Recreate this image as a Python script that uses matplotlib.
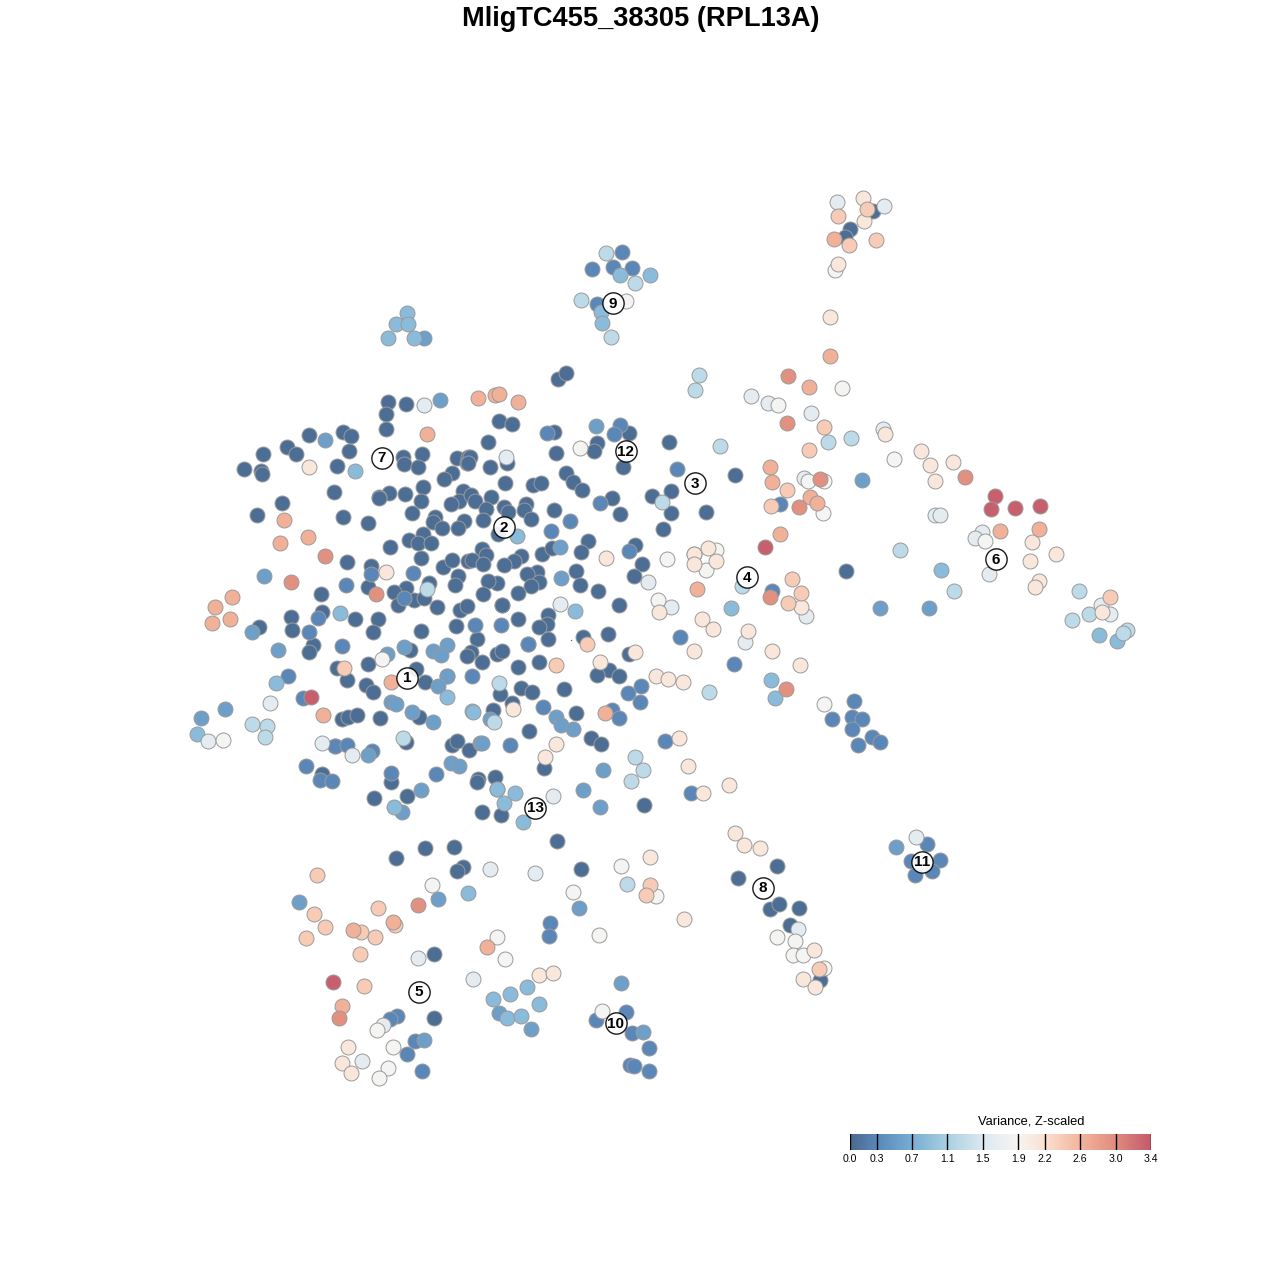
import numpy as np
import matplotlib
matplotlib.use('Agg')
import matplotlib.pyplot as plt
from matplotlib.colors import LinearSegmentedColormap, Normalize

plt.rcParams['font.family'] = ['Liberation Sans', 'DejaVu Sans']

title = 'MligTC455_38305 (RPL13A)'
legend_title = 'Variance, Z-scaled'
legend_ticks = [0.0, 0.3, 0.7, 1.1, 1.5, 1.9, 2.2, 2.6, 3.0, 3.4]
legend_colors = ['#4a6a90', '#5a88b8', '#79aed4', '#a9d0e3', '#dde9f1', '#f7f5f3',
                 '#fbe0d2', '#f4b59c', '#e08d7e', '#c55a6b']

# cells grouped by variance level
v_a = 0.05
x_a = [388,406,386,386,309,343,351,287,296,263,349,244,261,262,337,403,404,422,418,457,468,467,452,444,423,405,389,379,379,334,421,463,459,451,282,257,343,368,412,435,433,442,464,458,409,423,418,431,390,421,347,371,443,452,468,458,455,429,406,394,368,414,424,398,437,460,467,321,291,322,355,378,
       558,566,499,512,554,488,556,597,594,629,669,470,468,507,490,623,566,573,582,505,533,541,471,475,491,486,504,508,526,524,531,554,612,652,671,620,671,663,483,498,588,581,542,552,521,514,504,482,486,472,483,635,642,634,576,537,527,539,531,497,488,483,518,580,598,502,619,548,518,
       259,292,373,421,456,477,471,467,482,313,309,410,368,337,347,416,447,366,373,425,342,348,357,380,419,335,406,452,457,478,469,477,391,322,374,407,482,
       528,583,608,502,497,629,609,597,619,521,532,564,500,512,493,529,576,591,601,544,495,501,644,557,735,706,846,777,738,799,770,779,790,820,873,850,845,425,454,396,463,457,581,434,434,
       547,539,548,518,539,502]
y_a = [402,404,414,429,435,432,436,447,454,454,451,469,471,474,466,457,464,454,467,458,457,463,473,479,487,494,493,497,498,492,501,491,501,504,503,515,517,523,513,517,522,528,521,528,540,534,543,543,547,558,562,566,567,560,561,576,585,583,588,592,587,600,598,605,607,610,606,594,617,612,619,619,
       379,373,421,424,432,442,453,443,451,433,442,457,463,463,467,467,473,482,490,483,485,483,495,501,497,509,507,512,504,510,519,510,498,496,491,514,513,529,520,534,541,552,554,548,556,561,565,549,555,560,564,545,564,576,571,572,574,582,586,583,581,594,593,585,591,605,605,615,619,
       627,630,632,631,626,639,652,656,662,645,652,650,664,668,680,669,676,685,692,682,719,717,715,718,717,746,742,745,741,779,750,782,782,774,798,796,812,
       644,637,634,605,654,654,670,675,676,688,692,689,694,703,710,731,713,738,744,768,777,815,805,841,475,512,571,866,878,908,909,904,925,980,211,229,237,848,847,858,867,871,869,954,1018,
       624,627,639,667,662,651]

v_b = 0.3
x_b = [371,346,413,547,620,614,600,570,551,629,677,780,318,309,342,303,288,472,501,475,528,680,612,619,628,641,640,665,510,691,734,772,854,832,852,862,852,872,880,858,927,911,940,915,932,550,549,626,596,632,649,630,634,649,397,390,415,407,422,592,622,613,632,597,404,436,391,306,320,332,372,335,347,543]
y_b = [574,585,573,433,425,434,503,521,531,551,469,504,618,632,646,698,676,676,625,625,644,637,710,718,693,686,702,741,745,793,664,591,701,719,717,719,729,737,742,745,844,861,860,875,871,923,936,1012,1020,1033,1048,1065,1066,1071,1016,1019,1041,1054,1071,269,252,267,268,304,598,774,773,766,780,781,751,746,745,707]

v_c = 0.55
x_c = [325,440,264,596,560,561,252,278,404,387,433,447,441,447,391,396,412,433,368,451,459,480,603,583,600,497,694,556,561,573,490,402,421,880,929,896,424,438,579,299,499,621,643,531,424,862,438,482,225,201]
y_c = [440,400,576,426,547,578,632,650,647,654,651,645,655,676,702,704,712,722,755,763,766,743,770,790,807,789,554,717,725,729,719,812,790,608,608,847,338,899,908,902,1013,983,1032,1029,1040,480,686,743,709,718]

v_d = 0.85
x_d = [340,355,517,276,447,472,473,575,497,504,523,731,771,775,527,510,493,539,507,521,941,468,1099,1117,407,396,408,388,414,601,602,620,650,197,394,515]
y_d = [613,471,536,683,697,711,712,611,789,803,822,608,680,698,987,994,999,1004,1018,1016,570,893,635,641,313,324,324,338,338,312,323,275,275,734,807,793]

v_e = 1.25
x_e = [427,662,499,494,403,252,267,265,635,643,631,627,699,695,828,851,720,900,954,606,635,581,611,1079,1089,1072,1127,1123,709,742]
y_e = [589,502,683,722,738,724,726,737,757,770,781,884,375,390,442,438,446,550,591,253,283,300,337,591,614,620,630,633,692,586]

v_f = 1.6
x_f = [424,506,560,671,270,322,352,553,648,745,751,768,811,804,935,940,982,975,989,806,837,884,490,535,418,473,362,383,916,798,1101,1110,883,208]
y_f = [405,457,604,607,703,743,755,796,582,642,396,403,413,478,515,515,532,538,574,616,202,206,869,873,958,979,1061,1025,837,929,605,614,429,741]

v_g = 1.85
x_g = [580,667,658,382,716,706,842,894,808,824,823,985,626,835,621,656,432,573,497,505,599,602,377,393,388,379,777,795,793,803,824,223,778,824]
y_g = [448,559,600,659,550,570,388,459,481,481,513,541,301,270,866,896,885,892,937,959,935,1011,1030,1047,1068,1078,937,941,955,955,968,740,405,704]

v_h = 2.1
x_h = [309,386,606,659,513,635,694,600,656,668,683,702,713,679,556,545,688,703,729,694,708,694,716,748,772,800,801,830,885,921,930,953,935,1032,1056,1030,1039,1035,838,864,863,735,744,760,814,803,815,650,684,539,553,348,342,351,1102]
y_h = [467,572,558,612,709,652,651,662,676,679,682,619,629,738,744,757,766,793,785,554,548,564,561,631,651,665,607,317,434,451,465,462,481,542,554,561,581,587,264,221,198,833,845,848,950,979,987,857,919,975,973,1047,1063,1073,612]

v_i = 2.4
x_i = [344,587,556,809,787,771,824,788,792,867,838,876,849,819,650,646,317,314,325,306,361,375,395,360,364,1110,378,801]
y_i = [668,644,665,450,490,506,427,603,579,209,216,240,245,969,885,895,875,914,927,938,932,937,925,954,986,597,908,593]

v_j = 2.65
x_j = [427,284,308,280,232,215,212,230,391,323,478,495,499,518,605,697,830,809,770,772,810,817,780,834,353,393,487,342,1039,1000]
y_j = [434,520,537,543,597,607,623,619,682,715,398,395,394,402,713,589,356,387,467,482,497,503,534,239,930,922,947,1006,529,531]

v_k = 2.95
x_k = [325,291,376,788,787,820,799,965,339,786,418,770]
y_k = [556,582,594,376,423,479,507,477,1018,689,905,597]

v_l = 3.35
x_l = [311,765,995,991,1015,1040,333]
y_l = [697,547,496,509,508,506,982]

# tiny stray dot in the middle of the cloud
stray_x = [571]
stray_y = [640]

# cluster labels
cluster_ids = ['1','2','3','4','5','6','7','8','9','10','11','12','13']
cluster_x = [407,504,695,747,419,996,382,763,613,616,922,626,535]
cluster_y = [678,527,483,577,992,559,458,888,303,1023,862,451,808]

groups = [(x_a, y_a, v_a), (x_b, y_b, v_b), (x_c, y_c, v_c), (x_d, y_d, v_d),
          (x_e, y_e, v_e), (x_f, y_f, v_f), (x_g, y_g, v_g), (x_h, y_h, v_h),
          (x_i, y_i, v_i), (x_j, y_j, v_j), (x_k, y_k, v_k), (x_l, y_l, v_l)]

vmax = legend_ticks[-1]
norm = Normalize(0, vmax)
cmap = LinearSegmentedColormap.from_list(
    'var', [(t / vmax, c) for t, c in zip(legend_ticks, legend_colors)])

fig = plt.figure(figsize=(12.8, 12.8), dpi=100)
ax = fig.add_axes([0, 0, 1, 1])
ax.set_xlim(0, 1280)
ax.set_ylim(1280, 0)
ax.axis('off')

for gx, gy, gv in groups:
    ax.scatter(gx, gy, s=116, c=[cmap(norm(gv))], edgecolors='#9a9a9a',
               linewidths=0.7, zorder=2)
ax.scatter(stray_x, stray_y, s=1, c=['#4a6a90'], linewidths=0, zorder=2)

ax.scatter(cluster_x, cluster_y, s=235, c=['#ffffff'], edgecolors='black',
           linewidths=1.0, alpha=0.9, zorder=3)
for cid, cx, cy in zip(cluster_ids, cluster_x, cluster_y):
    ax.text(cx, cy + 0.5, cid, ha='center', va='center', fontsize=11,
            fontweight='bold', color='black', zorder=4)

ax.text(640.5, 19, title, ha='center', va='center', fontsize=19.6,
        fontweight='bold', color='black')

# colour key
lax = fig.add_axes([850 / 1280, 1 - 1150 / 1280, 301 / 1280, 16 / 1280])
grad = np.linspace(0, vmax, 512).reshape(1, -1)
lax.imshow(grad, aspect='auto', cmap=cmap, norm=norm, extent=[0, vmax, 0, 1])
for t in legend_ticks:
    lax.axvline(t, color='black', linewidth=1.0)
lax.set_xlim(0, vmax)
lax.set_yticks([])
lax.set_xticks(legend_ticks)
lax.set_xticklabels(['%.1f' % t for t in legend_ticks], fontsize=7.6)
lax.tick_params(axis='x', length=0, pad=3)
for s in lax.spines.values():
    s.set_visible(False)

ax.text(1031, 1122, legend_title, ha='center', va='center', fontsize=9.3, color='black')

fig.savefig('out.png', dpi=100)
